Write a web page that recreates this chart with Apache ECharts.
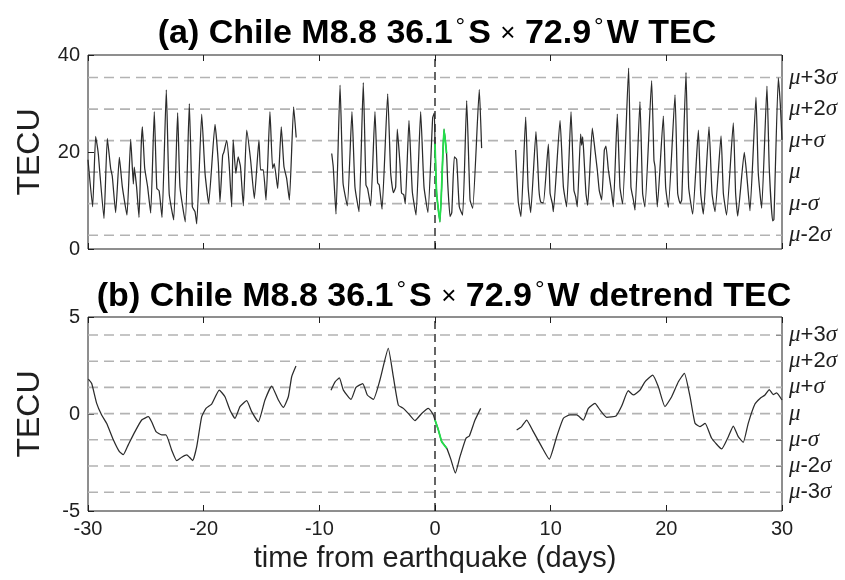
<!DOCTYPE html>
<html>
<head>
<meta charset="utf-8">
<script src="https://cdn.jsdelivr.net/npm/echarts@6/dist/echarts.min.js"></script>
<style>
  html, body { margin: 0; padding: 0; background: #ffffff; }
  #chart { width: 845px; height: 580px; }
</style>
</head>
<body>
<div id="chart"></div>
<script>
// Days relative to the Maule (Chile) M8.8 earthquake and the TEC read at 36.1°S, 72.9°W.
// A null value marks a gap in the record.
const tecDays = [
  -30.0, -29.6, -29.34, -29.19, -29.1, -29.0, -28.62, -28.33, -28.04, -27.9, -27.61, -27.29, -27.03, -26.63,
  -26.31, -26.08, -26.0, -25.8, -25.59, -25.4, -25.3, -25.1, -24.85, -24.58, -24.27, -24.05, -23.85, -23.6,
  -23.23, -22.98, -22.59, -22.25, -22.05, -21.59, -21.24, -20.98, -20.75, -20.6, -20.17, -19.88, -19.57,
  -19.02, -18.73, -18.59, -18.36, -18.25, -18.01, -17.8, -17.58, -17.45, -17.22, -17.02, -16.82, -16.57,
  -16.28, -15.94, -15.62, -15.22, -15.08, -14.85, -14.61, -14.27, -14.04, -13.9, -13.6, -13.29, -13.06,
  -12.83, -12.59, -12.22, -12.0,
  -10.5,
  -8.93, -8.8, -8.56, -8.21, -7.95, -7.58, -7.18, -6.92, -6.57, -6.2, -5.97, -5.83, -5.56, -5.19, -4.96,
  -4.82, -4.58, -4.09, -3.83, -3.6, -3.4, -3.26, -3.03, -2.89, -2.7, -2.57, -2.25, -1.96, -1.64, -1.24,
  -0.95, -0.61, -0.2, -0.06, 0.0, 0.14, 0.43, 0.66, 0.78, 1.0, 1.1, 1.3, 1.45, 1.67, 1.87, 2.1, 2.39,
  2.74, 3.03, 3.26, 3.83, 4.03,
  5.5,
  6.97, 7.2, 7.43, 7.84, 8.05, 8.27, 8.73, 8.99, 9.14, 9.37, 9.8, 9.95, 10.15, 10.23, 10.81, 11.1, 11.38,
  11.76, 12.01, 12.16, 12.3, 12.59, 12.68, 12.77, 12.88, 13.05, 13.2, 13.6, 13.83, 14.03, 14.2, 14.41,
  14.64, 14.78, 14.99, 15.28, 15.42, 15.76, 15.99, 16.22, 16.74, 16.94, 17.15, 17.29, 17.72, 17.95, 18.15,
  18.73, 18.93, 19.02, 19.22, 19.74, 19.94, 20.17, 20.75, 20.98, 21.19, 21.33, 21.7, 21.93, 22.28, 22.77,
  22.97, 23.2, 23.69, 23.95, 24.21, 24.73, 24.93, 25.21, 25.79, 25.99, 26.17, 26.74, 26.94, 27.23, 27.75,
  27.95, 28.24, 28.7, 28.9, 29.19, 29.3, 29.68, 29.85, 30.0
];
const tecValues = [
  18.4, 8.7, 23.2, 21.1, 19.4, 16.4, 6.3, 22.8, 16.6, 15.0, 7.5, 18.9, 12.8, 7.0,
  22.6, 13.4, 16.9, 12.8, 6.5, 21.3, 25.2, 16.7, 12.9, 7.4, 28.3, 12.5, 12.0, 6.5,
  32.8, 11.4, 6.0, 28.1, 12.8, 5.6, 30.0, 8.7, 7.7, 5.2, 27.8, 15.6, 9.4,
  25.7, 17.6, 9.7, 19.3, 20.0, 22.4, 17.6, 8.7, 22.5, 15.6, 19.0, 17.0, 8.9,
  24.5, 18.3, 10.4, 22.5, 16.3, 16.3, 10.1, 28.3, 16.6, 17.6, 12.5, 25.2, 17.0,
  14.6, 10.1, 29.3, 23.0,
  null,
  19.7, 17.0, 7.2, 33.8, 13.6, 8.9, 28.3, 12.8, 7.7, 34.3, 13.2, 12.5, 8.9, 28.3, 13.6,
  13.2, 8.2, 32.0, 15.6, 11.6, 12.8, 24.7, 17.6, 11.5, 11.2, 9.3, 26.5, 11.8, 7.0, 28.3,
  12.8, 7.5, 27.1, 28.0, 21.7, 11.5, 5.6, 18.3, 24.7, 19.7, 13.6, 6.7, 7.5, 19.0, 18.5, 8.7, 7.0,
  30.6, 10.1, 8.4, 32.9, 20.8,
  null,
  20.4, 9.7, 6.7, 27.2, 12.8, 7.5, 24.2, 12.1, 9.7, 9.5, 21.6, 11.5, 9.3, 7.7, 26.5, 12.8, 8.7,
  28.3, 12.1, 10.8, 8.7, 23.7, 21.4, 23.1, 19.0, 11.5, 9.0, 24.9, 20.4, 16.3, 12.1, 10.1,
  20.4, 21.2, 16.3, 11.5, 8.7, 27.8, 12.8, 9.3, 37.3, 12.8, 10.1, 8.0, 30.4, 11.5, 8.7,
  34.7, 18.3, 17.0, 8.7, 27.4, 12.8, 8.6, 31.8, 11.5, 9.4, 10.1, 36.4, 12.8, 7.2, 24.5,
  11.5, 7.2, 25.2, 11.5, 7.7, 23.3, 11.5, 7.0, 26.0, 11.5, 6.8, 19.9, 15.6, 7.9, 31.3,
  15.6, 8.4, 33.6, 16.6, 5.8, 6.1, 35.3, 30.0, 22.5
];
// First day after the earthquake (highlighted)
const tecQuakeDays = [0.0, 0.14, 0.43, 0.66, 0.78, 1.0];
const tecQuakeValues = [21.7, 11.5, 5.6, 18.3, 24.7, 19.7];

// Detrended TEC
const detDays = [
  -29.97, -29.68, -29.25, -28.82, -28.39, -27.81, -27.3, -26.95, -26.52, -25.94, -25.36, -24.78, -24.5,
  -24.12, -23.63, -23.26, -22.77, -22.33, -21.9, -21.46, -21.23, -20.95, -20.6, -20.17, -19.8, -19.31,
  -18.65, -18.16, -17.73, -17.29, -16.86, -16.28, -15.85, -15.27, -14.7, -14.12, -13.54, -13.11, -12.68,
  -12.39, -12.02,
  -10.5,
  -8.99, -8.64, -8.27, -7.92, -7.26, -6.83, -6.25, -5.85, -5.33, -4.76, -4.04, -3.6, -3.17, -2.74, -2.31,
  -1.73, -1.15, -0.58, -0.14, 0.0, 0.29, 0.58, 1.01, 1.35, 1.76, 2.16, 2.68, 2.97, 3.46, 3.95,
  5.5,
  7.06, 7.49, 7.92, 8.5, 9.22, 9.88, 10.52, 11.1, 11.67, 12.25, 12.82, 13.26, 13.83, 14.26, 14.84, 15.65,
  16.14, 16.71, 17.14, 17.72, 18.15, 18.82, 19.31, 19.88, 20.46, 21.04, 21.56, 22.05, 22.48, 22.91, 23.35,
  23.92, 24.78, 25.36, 25.79, 26.22, 26.65, 27.08, 27.66, 28.1, 28.53, 28.9, 29.24, 29.53, 30.0
];
const detValues = [
  1.80, 1.57, 0.55, -0.05, -0.48, -1.33, -1.93, -2.10, -1.59, -0.91, -0.31, -0.14, -0.40,
  -0.91, -1.08, -1.08, -1.85, -2.40, -2.23, -2.11, -2.23, -2.40, -1.68, -0.14, 0.29, 0.51,
  1.23, 0.89, 0.21, -0.22, 0.38, 0.69, 0.12, -0.40, 0.72, 1.44, 0.72, 0.34, 0.89,
  1.92, 2.47,
  null,
  1.23, 1.66, 1.86, 1.23, 0.75, 1.37, 1.57, 0.98, 0.75, 1.75, 3.38, 1.91, 0.46, 0.29, 0.03,
  -0.34, 0.03, 0.29, -0.05, -0.31, -0.82, -1.42, -1.76, -2.30, -3.05, -2.20, -1.25, -1.13, -0.31, 0.29,
  null,
  -0.82, -0.65, -0.31, -0.91, -1.68, -2.33, -1.17, -0.22, -0.05, -0.05, -0.31, 0.29, 0.55, 0.21, -0.17, -0.10,
  0.41, 1.20, 0.98, 1.23, 1.66, 2.00, 1.40, 0.38, 0.89, 1.66, 2.10, 0.89, -0.48, -0.65, -0.48,
  -1.25, -1.80, -1.17, -0.62, -1.17, -1.46, -0.48, 0.51, 0.80, 0.98, 1.26, 1.00, 1.09, 0.72
];
const detQuakeDays = [0.0, 0.29, 0.58, 1.01];
const detQuakeValues = [-0.31, -0.82, -1.42, -1.76];

// Mean and standard deviation used for the reference levels
const tecMu = 15.85, tecSigma = 6.5;
const detMu = 0.02, detSigma = 1.35;
const tecSigmaSteps = [-2, -1, 0, 1, 2, 3];
const detSigmaSteps = [-3, -2, -1, 0, 1, 2, 3];

const xTicks = { min: -30, max: 30, interval: 10 };
const tecTicks = { min: 0, max: 40, interval: 20 };
const detTicks = { min: -5, max: 5, interval: 5 };

const titleA = '(a) Chile M8.8 36.1{d|°}S {x|×} 72.9{d|°}W TEC';
const titleB = '(b) Chile M8.8 36.1{d|°}S {x|×} 72.9{d|°}W detrend TEC';
const yName = 'TECU';
const xName = 'time from earthquake (days)';

const SANS = 'Liberation Sans, Arial, sans-serif';
const SERIF = 'Liberation Serif, DejaVu Serif, serif';
const INK = '#1f1f1f';

function pairs(xs, ys) { return xs.map((x, i) => [x, ys[i]]); }
function levelsOf(mu, sigma, steps) { return steps.map(k => mu + k * sigma); }
function sigmaText(k) {
  if (k === 0) return '{m|μ}';
  const sign = k > 0 ? '+' : '-';
  const n = Math.abs(k) === 1 ? '' : String(Math.abs(k));
  return '{m|μ}{t|' + sign + n + '}{m|σ}';
}

const tecLevels = levelsOf(tecMu, tecSigma, tecSigmaSteps);
const detLevels = levelsOf(detMu, detSigma, detSigmaSteps);

const labelRich = {
  m: { fontFamily: SERIF, fontStyle: 'italic', fontSize: 23, color: INK },
  t: { fontFamily: SANS, fontSize: 22, color: INK }
};
const titleRich = {
  d: { fontFamily: SANS, fontSize: 24, fontWeight: 'normal', color: '#000', padding: [0, 3, 14, 3] },
  x: { fontFamily: SANS, fontSize: 26, fontWeight: 'normal', color: '#000' }
};

function xAxes(gridIndex, labelled) {
  const base = {
    type: 'value', gridIndex, min: xTicks.min, max: xTicks.max, interval: xTicks.interval,
    axisLine: { show: false, onZero: false }, splitLine: { show: false },
    axisTick: { show: true, inside: true, length: 6, lineStyle: { color: INK, width: 1 } }
  };
  return [
    Object.assign({}, base, {
      position: 'bottom',
      axisLabel: labelled
        ? { show: true, fontFamily: SANS, fontSize: 20, color: INK, margin: 8 }
        : { show: false },
      name: labelled ? xName : '',
      nameLocation: 'middle', nameGap: 33,
      nameTextStyle: { fontFamily: SANS, fontSize: 29, color: INK }
    }),
    Object.assign({}, base, { position: 'top', axisLabel: { show: false } })
  ];
}

function yAxes(gridIndex, ticks, levels, steps) {
  return [
    {
      type: 'value', gridIndex, position: 'left',
      min: ticks.min, max: ticks.max, interval: ticks.interval,
      axisLine: { show: false, onZero: false }, splitLine: { show: false },
      axisTick: { show: true, inside: true, length: 6, lineStyle: { color: INK } },
      axisLabel: { fontFamily: SANS, fontSize: 20, color: INK, margin: 8 },
      name: yName, nameLocation: 'middle', nameGap: 42, nameRotate: 90,
      nameTextStyle: { fontFamily: SANS, fontSize: 32, color: INK }
    },
    {
      type: 'value', gridIndex, position: 'right',
      min: ticks.min, max: ticks.max,
      axisLine: { show: false, onZero: false }, splitLine: { show: false },
      axisTick: { show: true, inside: true, length: 6, lineStyle: { color: INK }, customValues: levels },
      axisLabel: {
        show: true, margin: 7, customValues: levels,
        formatter: v => {
          let best = 0;
          levels.forEach((l, i) => { if (Math.abs(l - v) < Math.abs(levels[best] - v)) best = i; });
          return sigmaText(steps[best]);
        },
        rich: labelRich
      }
    }
  ];
}

function levelSeries(levels, xAxisIndex, yAxisIndex) {
  return levels.map(l => ({
    type: 'line', xAxisIndex, yAxisIndex, silent: true, z: 1,
    data: [[xTicks.min, l], [xTicks.max, l]],
    showSymbol: false,
    lineStyle: { color: '#b3b3b3', width: 1.6, type: [10, 6] }
  }));
}

function quakeLine(xAxisIndex, yAxisIndex, ticks) {
  return {
    type: 'line', xAxisIndex, yAxisIndex, silent: true, z: 3,
    data: [[0, ticks.min], [0, ticks.max]],
    showSymbol: false,
    lineStyle: { color: '#111', width: 1.3, type: [8, 5] }
  };
}

function traceSeries(xs, ys, xAxisIndex, yAxisIndex, color, width, z) {
  return {
    type: 'line', xAxisIndex, yAxisIndex, z,
    data: pairs(xs, ys),
    showSymbol: false, connectNulls: false, smooth: 0.15,
    lineStyle: { color, width }
  };
}

const gridBase = {
  left: 88, width: 694, height: 194, show: true, borderColor: INK, borderWidth: 1,
  backgroundColor: 'transparent', containLabel: false, outerBoundsMode: 'none'
};

const option = {
  backgroundColor: '#ffffff',
  animation: false,
  title: [
    { text: titleA, left: 432, top: 10, textAlign: 'center',
      textStyle: { fontFamily: SANS, fontSize: 34, fontWeight: 'bold', color: '#000', rich: titleRich } },
    { text: titleB, left: 439, top: 273, textAlign: 'center',
      textStyle: { fontFamily: SANS, fontSize: 34, fontWeight: 'bold', color: '#000', rich: titleRich } }
  ],
  grid: [
    Object.assign({}, gridBase, { top: 55 }),
    Object.assign({}, gridBase, { top: 317 })
  ],
  xAxis: [].concat(xAxes(0, false), xAxes(1, true)),
  yAxis: [].concat(yAxes(0, tecTicks, tecLevels, tecSigmaSteps), yAxes(1, detTicks, detLevels, detSigmaSteps)),
  series: [].concat(
    levelSeries(tecLevels, 0, 0),
    levelSeries(detLevels, 2, 2),
    [
      quakeLine(0, 0, tecTicks),
      quakeLine(2, 2, detTicks),
      traceSeries(tecDays, tecValues, 0, 0, '#2b2b2b', 1.25, 4),
      traceSeries(tecQuakeDays, tecQuakeValues, 0, 0, '#22e04a', 1.8, 5),
      traceSeries(detDays, detValues, 2, 2, '#2b2b2b', 1.25, 4),
      traceSeries(detQuakeDays, detQuakeValues, 2, 2, '#22e04a', 1.8, 5)
    ]
  )
};

const chart = echarts.init(document.getElementById('chart'), null, { renderer: 'canvas' });
chart.setOption(option);
</script>
</body>
</html>
